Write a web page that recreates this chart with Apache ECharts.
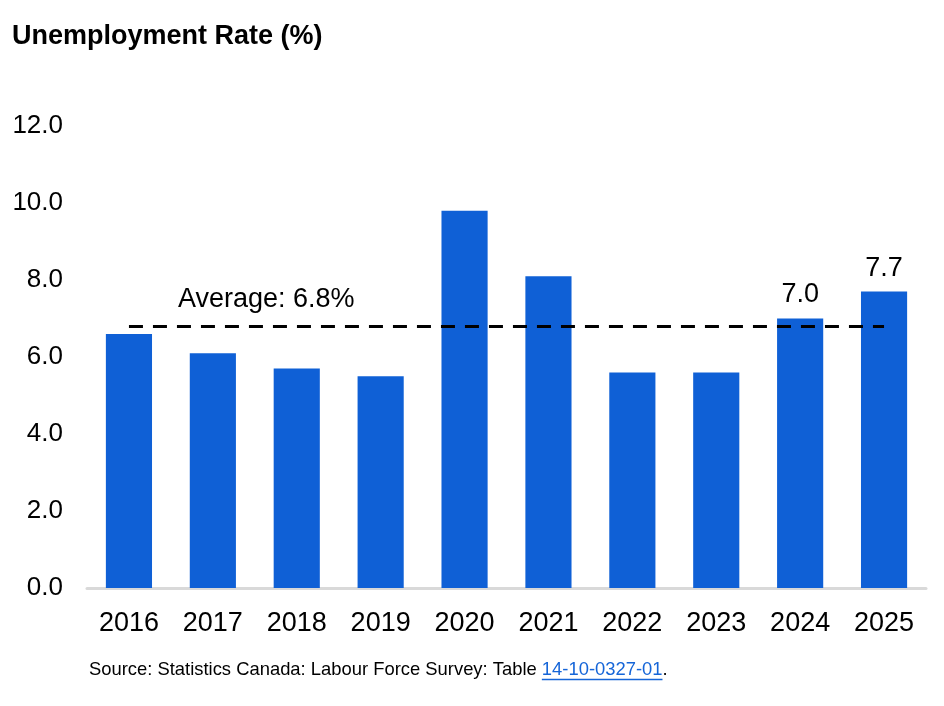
<!DOCTYPE html>
<html>
<head>
<meta charset="utf-8">
<script src="https://cdn.jsdelivr.net/npm/echarts@6/dist/echarts.min.js"></script>
<style>
  html, body { margin: 0; padding: 0; background: #fff; }
  #chart { width: 944px; height: 706px; }
</style>
</head>
<body>
<div id="chart"></div>
<script>
// data
const years = ['2016', '2017', '2018', '2019', '2020', '2021', '2022', '2023', '2024', '2025'];
const rates = [6.6, 6.1, 5.7, 5.5, 9.8, 8.1, 5.6, 5.6, 7.0, 7.7];
const labelledYears = ['2024', '2025'];
const average = 6.8;
const yTicks = [0, 2, 4, 6, 8, 10, 12];

const font = 'Arial, "Liberation Sans", sans-serif';
const barColor = '#0f60d6';
const linkColor = '#1565d8';

const sourcePrefix = 'Source: Statistics Canada: Labour Force Survey: Table ';
const sourceLink = '14-10-0327-01';
const sourceSize = 18.4;
const sourceLeft = 89;

// measure text so the underline sits under the link
const ctx = document.createElement('canvas').getContext('2d');
ctx.font = sourceSize + 'px ' + font;
const prefixW = ctx.measureText(sourcePrefix).width;
const linkW = ctx.measureText(sourceLink).width;

const chart = echarts.init(document.getElementById('chart'));

const option = {
    animation: false,
    textStyle: { fontFamily: font },
    grid: {
        left: 87,
        right: 18,
        top: 126,
        bottom: 118
    },
    xAxis: {
        type: 'category',
        data: years,
        axisLine: { lineStyle: { color: '#d9d9d9', width: 3 } },
        axisTick: { show: false },
        axisLabel: { color: '#000', fontSize: 27, margin: 22, fontFamily: font }
    },
    yAxis: {
        type: 'value',
        min: yTicks[0],
        max: yTicks[yTicks.length - 1],
        interval: 2,
        splitLine: { show: false },
        axisLine: { show: false },
        axisTick: { show: false },
        axisLabel: {
            color: '#000',
            fontSize: 26,
            margin: 24,
            fontFamily: font,
            formatter: v => v.toFixed(1)
        }
    },
    series: [{
        type: 'bar',
        barWidth: '55%',
        itemStyle: { color: barColor },
        data: rates.map((v, i) => ({
            value: v,
            label: {
                show: labelledYears.includes(years[i]),
                position: 'top',
                distance: 10,
                color: '#000',
                fontSize: 27,
                fontFamily: font,
                formatter: p => p.value.toFixed(1)
            }
        })),
        markLine: {
            silent: true,
            symbol: 'none',
            label: { show: false },
            lineStyle: { color: '#000', width: 3, type: [14, 10] },
            data: [[
                { coord: [years[0], average] },
                { coord: [years[years.length - 1], average] }
            ]]
        }
    }],
    graphic: [
        {
            type: 'text',
            left: 12,
            top: 23,
            style: {
                text: 'Unemployment Rate (%)',
                font: 'bold 27px ' + font,
                fill: '#000'
            }
        },
        {
            type: 'text',
            left: 178,
            top: 286,
            style: {
                text: 'Average: ' + average.toFixed(1) + '%',
                font: '27px ' + font,
                fill: '#000'
            }
        },
        {
            type: 'text',
            left: sourceLeft,
            top: 661,
            style: {
                text: '{a|' + sourcePrefix + '}{b|' + sourceLink + '}{a|.}',
                rich: {
                    a: { fontSize: sourceSize, fontFamily: font, fill: '#000' },
                    b: { fontSize: sourceSize, fontFamily: font, fill: linkColor }
                }
            }
        },
        {
            // link underline
            type: 'line',
            shape: {
                x1: sourceLeft + prefixW, y1: 679.5,
                x2: sourceLeft + prefixW + linkW, y2: 679.5
            },
            style: { stroke: linkColor, lineWidth: 1.5 }
        }
    ]
};

chart.setOption(option);
</script>
</body>
</html>
